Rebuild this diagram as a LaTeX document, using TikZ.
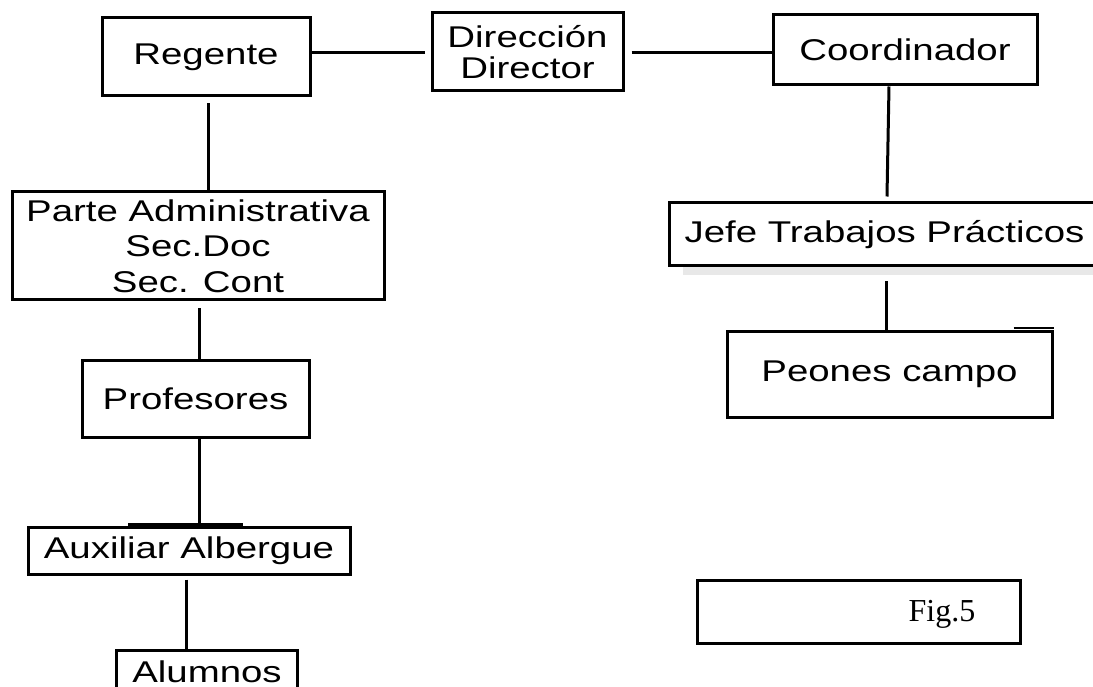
\documentclass[tikz,border=0pt]{standalone}
\usepackage{fontspec}
\newfontfamily\boxfont[FakeStretch=1.28]{Liberation Sans}
\newfontfamily\figfont{Liberation Serif}
\begin{document}
\begin{tikzpicture}[x=1pt,y=-1pt,
  box/.style={draw, line width=3pt, align=center, inner sep=0pt,
    font=\boxfont\fontsize{30}{31}\selectfont},
  conn/.style={line width=3pt}]
\useasboundingbox (0,0) rectangle (1093,687);
\clip (0,0) rectangle (1093,687);
% boxes
\node[box, minimum width=208pt, minimum height=78pt] (reg) at (206,57) {Regente};
\node[box, minimum width=191pt, minimum height=78pt] (dir) at (527.5,52) {Dirección\\Director};
\node[box, minimum width=264pt, minimum height=70pt] (coo) at (905,50) {Coordinador};
\node[box, minimum width=372pt, minimum height=108pt,
  font=\boxfont\fontsize{30}{35.5}\selectfont] (parte) at (198,246) {Parte Administrativa\\Sec.Doc\\Sec. Cont};
\node[box, minimum width=227pt, minimum height=77pt] (prof) at (195.5,398.5) {Profesores};
\node[box, minimum width=322pt, minimum height=47pt] (aux) at (189,550.5) {Auxiliar Albergue};
\node[box, draw=none, minimum width=178pt, minimum height=34pt, text height=27pt, text depth=0pt] (alu) at (207,669) {Alumnos};
\draw[conn] ([yshift=-4pt]alu.south west) -- (alu.north west) -- (alu.north east) -- ([yshift=-4pt]alu.south east);
\fill[gray!18] (683,267) rectangle (1093,275);
\node[box, minimum width=431pt, minimum height=63pt] (jefe) at (884.5,234.5) {Jefe Trabajos Prácticos};
\node[box, minimum width=325pt, minimum height=86pt] (peo) at (889.5,374) {Peones campo};
\node[box, minimum width=323pt, minimum height=63pt] (figbox) at (858.5,611.5) {};
\node[font=\figfont\fontsize{32}{34}\selectfont, anchor=base, inner sep=0pt] (figlbl) at (942,621) {Fig.5};
% helper coordinates
\coordinate (barL) at (128,524.5);
\coordinate (barR) at (243,524.5);
% connectors
\draw[conn] ([yshift=4pt]reg.east) -- ([xshift=-6pt,yshift=-1pt]dir.west);
\draw[conn] ([xshift=7pt,yshift=-1pt]dir.east) -- ([yshift=-3pt]coo.west);
\draw[conn] ([xshift=2pt,yshift=-6pt]reg.south) -- ([xshift=10pt]parte.north);
\draw[conn] ([xshift=1pt,yshift=-7pt]parte.south) -- ([xshift=3.5pt]prof.north);
\draw[conn] ([xshift=3.5pt]prof.south) -- ([xshift=3.5pt]prof.south |- barL);
\draw[line width=4pt] (barL) -- (barR);
\draw[conn] ([xshift=-3pt,yshift=-4pt]aux.south) -- ([xshift=-21pt]alu.north);
\draw[conn] ([xshift=-16pt]coo.south) -- ([xshift=2.5pt,yshift=5pt]jefe.north);
\draw[conn] ([xshift=1.5pt,yshift=-14pt]jefe.south) -- ([xshift=-3.5pt]peo.north);
\draw[line width=2pt] ([xshift=-40pt,yshift=1.5pt]peo.north east) -- ([yshift=1.5pt]peo.north east);
\end{tikzpicture}
\end{document}
